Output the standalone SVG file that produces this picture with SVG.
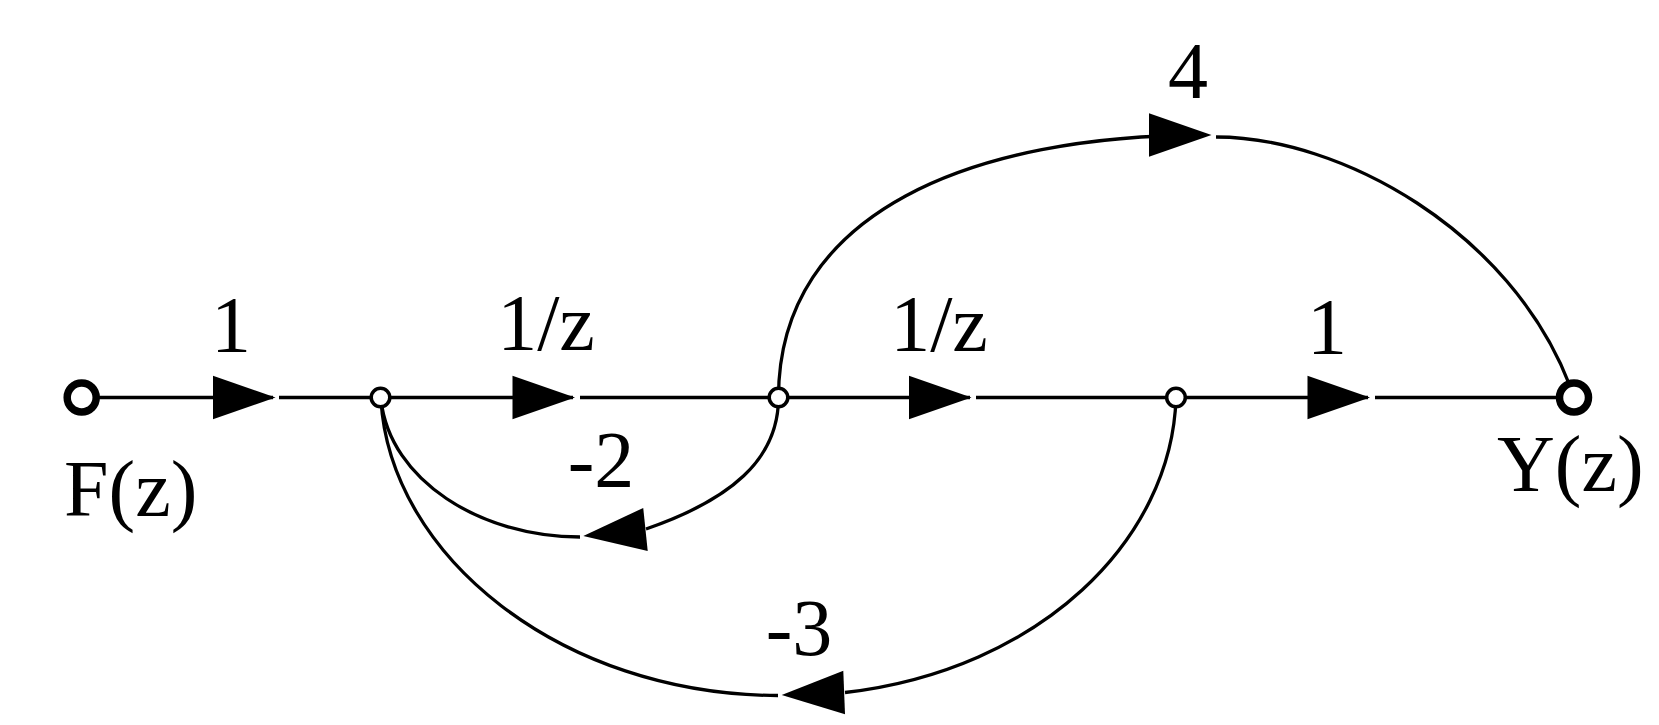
<svg xmlns="http://www.w3.org/2000/svg" xmlns:xlink="http://www.w3.org/1999/xlink" width="1659" height="725" viewBox="0 0 1659 725">
<style>
.ln{fill:none;stroke:#000;stroke-width:3.3;}
.ah{fill:#000;stroke:none;}
.big{fill:#fff;stroke:#000;stroke-width:7.5;}
.small{fill:#fff;stroke:#000;stroke-width:3.5;}
.lbl{font-family:"Liberation Serif","Times New Roman",serif;font-size:80px;fill:#000;}
</style>
<defs>
<path id="arw" d="M0 0 L-62.5 -21.7 L-62.5 21.7 Z"/>
</defs>
<rect width="1659" height="725" fill="#fff"/>
<g id="connectors">
  <path class="ln" d="M82 397.5 H273 M279 397.5 H381"/>
  <path class="ln" d="M381 397.5 H573 M580 397.5 H778.5"/>
  <path class="ln" d="M778.5 397.5 H970 M976 397.5 H1176"/>
  <path class="ln" d="M1176 397.5 H1368 M1375 397.5 H1574"/>
  <path class="ln" d="M778.5 397.5 C778.5 210 975 135 1206 135"/>
  <path class="ln" d="M1216 137 C1340 137 1510 230 1570 386"/>
  <path class="ln" d="M778.5 397.5 C778.5 460 730 500 646 529"/>
  <path class="ln" d="M580 537 C480 537 390 480 381 400"/>
  <path class="ln" d="M1176 397.5 C1172 540 1040 670 845 692.5"/>
  <path class="ln" d="M778 695.5 C560 695 390 555 381 400"/>
  <use xlink:href="#arw" class="ah" transform="translate(275.5,397.5)"/>
  <use xlink:href="#arw" class="ah" transform="translate(575,397.5)"/>
  <use xlink:href="#arw" class="ah" transform="translate(971.5,397.5)"/>
  <use xlink:href="#arw" class="ah" transform="translate(1370,397.5)"/>
  <use xlink:href="#arw" class="ah" transform="translate(1211.5,135)"/>
  <use xlink:href="#arw" class="ah" transform="translate(583.3,536) rotate(174.06)"/>
  <use xlink:href="#arw" class="ah" transform="translate(781.7,695) rotate(177.74)"/>
  <text class="lbl" x="231" y="352" text-anchor="middle">1</text>
  <text class="lbl" x="546" y="350" text-anchor="middle">1/z</text>
  <text class="lbl" x="939" y="351" text-anchor="middle">1/z</text>
  <text class="lbl" x="1327" y="354" text-anchor="middle">1</text>
  <text class="lbl" x="1188" y="98" text-anchor="middle">4</text>
  <text class="lbl" x="601" y="487" text-anchor="middle">-2</text>
  <text class="lbl" x="799" y="655" text-anchor="middle">-3</text>
</g>
<g id="node-F">
  <circle class="big" cx="81.7" cy="397.5" r="14.5"/>
  <text class="lbl" x="64" y="516">F(z)</text>
</g>
<g id="node-1">
  <circle class="small" cx="380.5" cy="397.5" r="9.3"/>
</g>
<g id="node-2">
  <circle class="small" cx="778.5" cy="397.5" r="9.3"/>
</g>
<g id="node-3">
  <circle class="small" cx="1176" cy="397.5" r="9.3"/>
</g>
<g id="node-Y">
  <circle class="big" cx="1574" cy="397.5" r="14.5"/>
  <text class="lbl" x="1497" y="491">Y(z)</text>
</g>
</svg>
